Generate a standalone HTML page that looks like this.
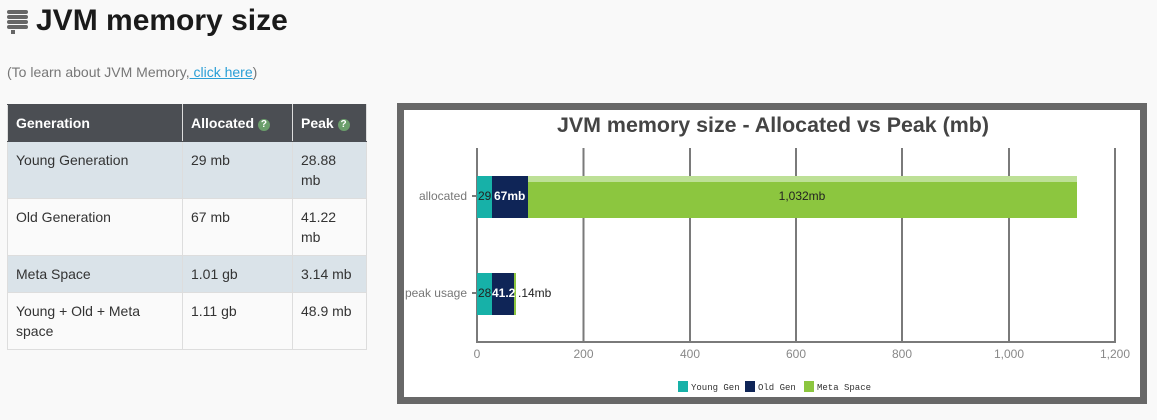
<!DOCTYPE html>
<html><head><style>
body{margin:0;width:1157px;height:420px;background:#f9f9f9;font-family:"Liberation Sans",sans-serif;position:relative;overflow:hidden}
.a{position:absolute}
h1{position:absolute;left:36px;top:4px;margin:0;font-size:30px;font-weight:bold;color:#1a1a1a}
.note{left:7px;top:64px;font-size:14px;color:#777}
.note a{color:#2a9fd6;text-decoration:underline}
table{position:absolute;left:7px;top:104px;border-collapse:collapse;font-size:14px;color:#333}
td,th{border:1px solid #ddd;padding:8px 8px;vertical-align:top;line-height:20px;text-align:left}
th{background:#4b4e53;color:#fff;border-color:#4b4e53 #ddd;height:19px;padding:8px 8px}
tr.g td{background:#dae3e9}
tr.w td{background:#fafafa}
.q{display:inline-block;width:12px;height:12px;border-radius:6px;background:#6b9e6b;color:#fff;font-size:10px;line-height:12px;text-align:center;vertical-align:1px}
</style></head><body>
<div class="a" style="left:7px;top:10px;width:21px;height:26px">
<div style="height:4px;background:#666;border-radius:2px;margin-bottom:1px"></div>
<div style="height:4px;background:#666;border-radius:2px;margin-bottom:1px"></div>
<div style="height:4px;background:#666;border-radius:2px;margin-bottom:1px"></div>
<div style="height:4px;background:#666;border-radius:2px;margin-bottom:1px"></div>
<div style="width:4px;height:4px;background:#666;margin-left:4px"></div>
</div>
<h1>JVM memory size</h1>
<div class="a note">(To learn about JVM Memory,<a> click here</a>)</div>
<table>
<tr><th style="width:158px">Generation</th><th style="width:93px">Allocated <span class="q">?</span></th><th style="width:57px">Peak <span class="q">?</span></th></tr>
<tr class="g"><td>Young Generation</td><td>29 mb</td><td>28.88 mb</td></tr>
<tr class="w"><td>Old Generation</td><td>67 mb</td><td>41.22 mb</td></tr>
<tr class="g"><td>Meta Space</td><td>1.01 gb</td><td>3.14 mb</td></tr>
<tr class="w"><td>Young + Old + Meta space</td><td>1.11 gb</td><td>48.9 mb</td></tr>
</table>
<svg class="a" style="left:0;top:0" width="1157" height="420" font-family="'Liberation Sans',sans-serif">
<rect x="400.5" y="106.5" width="743" height="294" fill="#fff" stroke="#686868" stroke-width="7"/>
<text x="773" y="132" text-anchor="middle" font-size="21" font-weight="bold" fill="#444" textLength="432" lengthAdjust="spacingAndGlyphs">JVM memory size - Allocated vs Peak (mb)</text>
<g stroke="#7a7a7a" stroke-width="2">
<line x1="477" y1="148" x2="477" y2="343"/><line x1="583.5" y1="148" x2="583.5" y2="343"/><line x1="690" y1="148" x2="690" y2="343"/><line x1="796" y1="148" x2="796" y2="343"/><line x1="902" y1="148" x2="902" y2="343"/><line x1="1009" y1="148" x2="1009" y2="343"/><line x1="1115" y1="148" x2="1115" y2="343"/>
<line x1="477" y1="342" x2="1115" y2="342"/>
<line x1="472" y1="196" x2="477" y2="196"/><line x1="472" y1="293" x2="477" y2="293"/>
</g>
<rect x="477" y="176" width="15" height="42" fill="#17b1a8"/>
<rect x="492" y="176" width="36" height="42" fill="#0f2557"/>
<rect x="528" y="176" width="549" height="42" fill="#8cc63f"/>
<rect x="528" y="176" width="549" height="6" fill="#bde096"/>
<rect x="477" y="273" width="15" height="42" fill="#17b1a8"/>
<rect x="492" y="273" width="22" height="42" fill="#0f2557"/>
<rect x="514" y="273" width="2" height="42" fill="#8cc63f"/>
<g font-size="12">
<text x="478" y="200" fill="#222">29</text>
<text x="494" y="200" fill="#fff" font-weight="bold">67mb</text>
<text x="802" y="200" fill="#222" text-anchor="middle">1,032mb</text>
<text x="478" y="297" fill="#222">28</text>
<text x="492" y="297" fill="#fff" font-weight="bold">41.23</text>
<text x="518" y="297" fill="#222">.14mb</text>
</g>
<g font-size="12" fill="#777" text-anchor="end">
<text x="467" y="200">allocated</text><text x="467" y="297">peak usage</text>
</g>
<g font-size="12" fill="#888" text-anchor="middle">
<text x="477" y="358">0</text><text x="583.5" y="358">200</text><text x="690" y="358">400</text><text x="796" y="358">600</text><text x="902" y="358">800</text><text x="1009" y="358">1,000</text><text x="1115" y="358">1,200</text>
</g>
<g font-size="9" fill="#333" font-family="'Liberation Mono',monospace">
<rect x="678" y="381" width="10" height="11" fill="#17b1a8"/><text x="691" y="390">Young Gen</text>
<rect x="745" y="381" width="10" height="11" fill="#0f2557"/><text x="758" y="390">Old Gen</text>
<rect x="804" y="381" width="10" height="11" fill="#8cc63f"/><text x="817" y="390">Meta Space</text>
</g>
</svg>
</body></html>
